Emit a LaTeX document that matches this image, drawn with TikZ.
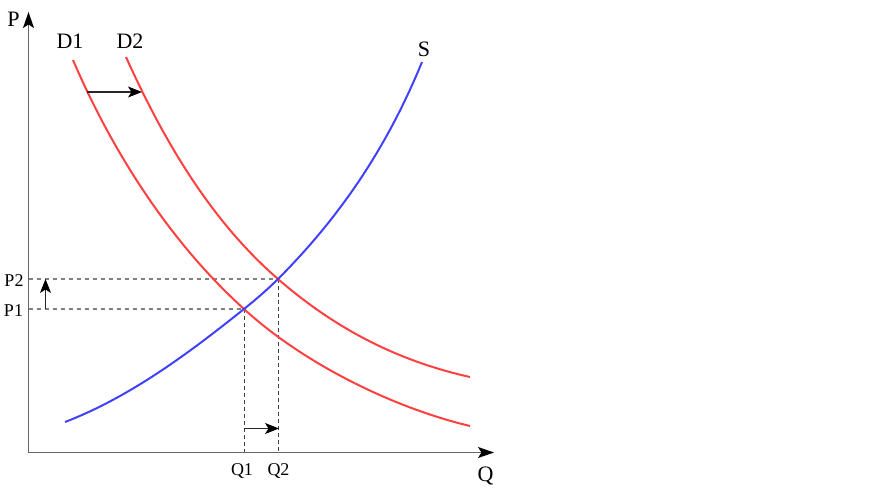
\documentclass[tikz,border=0pt]{standalone}
\usepackage{fontspec}
\setmainfont{Liberation Serif}
\usetikzlibrary{arrows.meta}
\definecolor{dred}{HTML}{FF4040}
\definecolor{dblue}{HTML}{4040FF}
\begin{document}
\begin{tikzpicture}[x=1pt,y=-1pt,
  curvered/.style={line width=2pt,draw=dred},
  curveblue/.style={line width=2pt,draw=dblue},
  axisline/.style={line width=1.3pt,draw=black!60,-{Stealth[length=16pt,width=11pt,inset=3.5pt,color=black]}},
  shiftarrow/.style={line width=1.1pt,draw=black!85,-{Stealth[length=14pt,width=11pt,inset=3.5pt,color=black]}},
  hdash/.style={line width=1.3pt,draw=black!50,dash pattern=on 4pt off 4pt},
  vdash/.style={line width=1pt,draw=black!75,dash pattern=on 4pt off 3pt},
  biglabel/.style={font=\fontsize{22}{24}\selectfont,inner sep=0pt,anchor=base},
  smalllabel/.style={font=\fontsize{18}{20}\selectfont,inner sep=0pt,anchor=base}]
\useasboundingbox (0,0) rectangle (871,490);
% key points
\coordinate (O) at (28.5,452.5);
\coordinate (Ytip) at (28.5,12);
\coordinate (Xtip) at (494,452.5);
\coordinate (E1) at (244,309);
\coordinate (E2) at (278,279);
\coordinate (P1a) at (28.5,309);
\coordinate (P2a) at (28.5,279);
\coordinate (Q1a) at (244,452.5);
\coordinate (Q2a) at (278,452.5);
\coordinate (D1s) at (73,60);
\coordinate (D1e) at (470,426);
\coordinate (D2s) at (126,57);
\coordinate (D2e) at (470,377);
\coordinate (Ss) at (65,422);
\coordinate (Se) at (422,62);
% dashed guides
\draw[hdash] (P2a) -- (E2);
\draw[hdash] (P1a) -- (E1);
\draw[vdash] (E1) -- (Q1a);
\draw[vdash] (E2) -- (Q2a);
% curves
\draw[curvered] (D1s) .. controls (112.5,152) and (170,242) .. (E1)
   .. controls (303,363) and (392,407.4) .. (D1e);
\draw[curvered] (D2s) .. controls (163,139) and (210,220) .. (E2)
   .. controls (334.6,328.2) and (396.8,360.7) .. (D2e);
\draw[curveblue] (Ss) .. controls (130.3,396.9) and (189.3,352.8) .. (E1)
   .. controls (255.7,299.6) and (267.4,289.6) .. (E2)
   .. controls (341.6,215.4) and (387.9,145.3) .. (Se);
% axes
\draw[axisline] (O) -- (Ytip);
\draw[axisline] (O) -- (Xtip);
% shift arrows
\coordinate (A1s) at (87,92);
\coordinate (A1e) at (142,92);
\coordinate (A2s) at (45.5,309);
\coordinate (A2e) at (45.5,279);
\coordinate (A3s) at (244,428.5);
\coordinate (A3e) at (279,428.5);
\draw[shiftarrow] (A1s) -- (A1e);
\draw[shiftarrow] (A2s) -- (A2e);
\draw[shiftarrow] (A3s) -- (A3e);
% labels
\node[biglabel] (lP) at (13.5,26) {P};
\node[biglabel] (lQ) at (485.5,481) {Q};
\node[biglabel] (lD1) at (70,48.5) {D1};
\node[biglabel] (lD2) at (130,48.5) {D2};
\node[biglabel] (lS) at (424,56.5) {S};
\node[smalllabel] (lP2) at (14,286) {P2};
\node[smalllabel] (lP1) at (13.5,316) {P1};
\node[smalllabel] (lQ1) at (242,475) {Q1};
\node[smalllabel] (lQ2) at (278.5,475) {Q2};
\end{tikzpicture}
\end{document}
